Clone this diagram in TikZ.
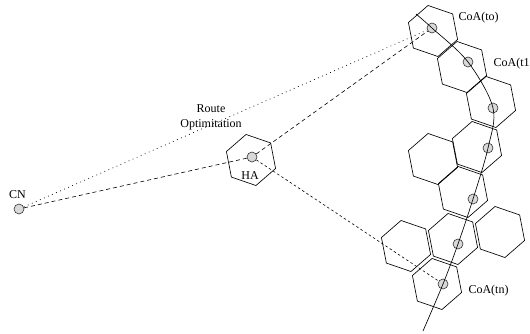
\documentclass[tikz,border=0pt]{standalone}
\usepackage{fontspec}
\setmainfont{Liberation Serif}
\begin{document}
\begin{tikzpicture}[x=1pt,y=-1pt,
  hexline/.style={draw=black, line width=0.65pt, line join=miter},
  mobile/.style={circle, draw=black!80, line width=0.6pt, fill=black!15, minimum size=10pt, inner sep=0pt},
  lbl/.style={font=\fontsize{12}{15}\selectfont, inner sep=0pt},
  tunnel/.style={line width=0.6pt, dash pattern=on 4pt off 3pt},
  tunnelfine/.style={line width=0.6pt, dash pattern=on 2.5pt off 2.5pt},
  routeline/.style={line width=0.7pt, dash pattern=on 0.8pt off 3.6pt},
  track/.style={line width=0.65pt}]
\useasboundingbox (0,0) rectangle (530,334);
% hexagon cell centres
\coordinate (h1) at (433,31);
\coordinate (h2) at (462,67);
\coordinate (h3) at (491,102);
\coordinate (h4) at (477,147);
\coordinate (h5) at (433,159);
\coordinate (h6) at (463,192);
\coordinate (h7) at (500,232);
\coordinate (h8) at (453,239);
\coordinate (h9) at (406,246);
\coordinate (h10) at (437,284);
\coordinate (hha) at (251,160);
\foreach \n in {h1,h2,h3,h4,h5,h6,h7,h8,h9,h10,hha}
  \draw[hexline] (\n) +(41:26pt) -- +(101:26pt) -- +(161:26pt) -- +(221:26pt) -- +(281:26pt) -- +(341:26pt) -- cycle;
% mobile / agent positions
\node[mobile] (c1) at (432,28) {};
\node[mobile] (c2) at (468,62) {};
\node[mobile] (c3) at (493,108) {};
\node[mobile] (c4) at (488,148) {};
\node[mobile] (c5) at (473,199) {};
\node[mobile] (c6) at (458,244) {};
\node[mobile] (c7) at (443,284) {};
\node[mobile] (ha) at (252,157) {};
\node[mobile] (cn) at (19,209) {};
% trajectory
\coordinate (s) at (416,14);
\coordinate (e) at (423,331);
\draw[track] plot[smooth, tension=0.55] coordinates {(s) (c1.center) (c2.center) (c3.center) (c4.center) (c5.center) (c6.center) (c7.center) (e)};
% connections
\draw[routeline] (cn) -- (c1);
\draw[tunnel] (cn) -- (ha);
\draw[tunnel] (ha) -- (c1);
\draw[tunnelfine] (ha) -- (c7);
% labels
\node[lbl, anchor=west] (lto) at (458.5,18) {CoA(to)};
\node[lbl, anchor=west] (lt1) at (493.5,64) {CoA(t1};
\node[lbl, anchor=west] (ltn) at (468.3,291) {CoA(tn)};
\node[lbl] (lcn) at (17.5,194.5) {CN};
\node[lbl] (lha) at (250,175.5) {HA};
\node[lbl, align=center] (lroute) at (211,117.5) {Route\\Optimitation};
\end{tikzpicture}
\end{document}
